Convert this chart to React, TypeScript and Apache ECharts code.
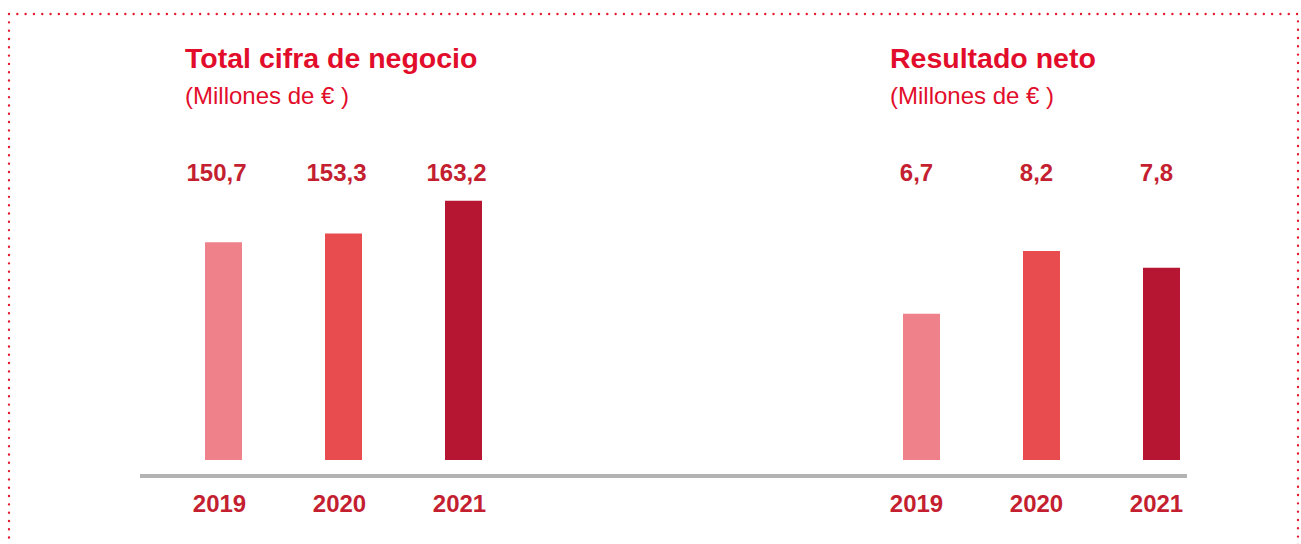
import React, { useEffect, useRef } from "react";
import * as echarts from "echarts";

const years = ["2019", "2020", "2021"];
const revenue = [150.7, 153.3, 163.2];
const netIncome = [6.7, 8.2, 7.8];
const barColors = ["#EF818B", "#E84C4E", "#B61631"];
const titles = ["Total cifra de negocio", "Resultado neto"];
const subtitle = "(Millones de € )";

const FONT = "'Liberation Sans', Arial, Helvetica, sans-serif";
const TITLE_RED = "#E20D2B";
const LABEL_RED = "#C41F30";

const fmt = (v: number) => v.toFixed(1).replace(".", ",");

export default function App() {
  const ref = useRef<HTMLDivElement>(null);
  useEffect(() => {
    if (!ref.current) return;
    const chart = echarts.init(ref.current, null, { renderer: "svg" });
    const labelStyle = {
      color: LABEL_RED,
      fontSize: 24,
      fontFamily: FONT,
      fontWeight: "bold" as const,
      verticalAlign: "middle" as const,
    };
    const catAxis = (
      grid: number,
      data: string[],
      position: string,
      margin: number,
      shiftLeft: number
    ) => ({
      gridIndex: grid,
      type: "category" as const,
      data,
      position,
      axisLine: { show: false },
      axisTick: { show: false },
      splitLine: { show: false },
      axisLabel: { ...labelStyle, margin, interval: 0, padding: [0, shiftLeft * 2, 0, 0] },
    });
    const barSeries = (idx: number, data: number[]) => ({
      type: "bar" as const,
      xAxisIndex: idx * 2,
      yAxisIndex: idx,
      data,
      barWidth: 37,
      itemStyle: { color: (p: any) => barColors[p.dataIndex] },
      label: { show: false },
    });
    chart.setOption({
      animation: false,
      backgroundColor: "#ffffff",
      grid: [
        { left: 163.5, top: 190, width: 360, height: 270 },
        { left: 861.5, top: 190, width: 360, height: 270 },
      ],
      xAxis: [
        catAxis(0, years, "bottom", 43, 4),
        catAxis(0, revenue.map(fmt), "top", 18, 7),
        catAxis(1, years, "bottom", 43, 5),
        catAxis(1, netIncome.map(fmt), "top", 18, 5),
      ],
      yAxis: [
        { gridIndex: 0, type: "value", min: 85.3, max: 166.4, show: false, splitLine: { show: false } },
        { gridIndex: 1, type: "value", min: 3.22, max: 9.65, show: false, splitLine: { show: false } },
      ],
      series: [barSeries(0, revenue), barSeries(1, netIncome)],
      graphic: [
        {
          type: "rect",
          shape: { x: 9, y: 14, width: 1289, height: 560 },
          style: {
            fill: "none",
            stroke: "#E31B30",
            lineWidth: 2.4,
            lineDash: [0.01, 8.3],
            lineCap: "round",
          },
          silent: true,
        },
        {
          type: "line",
          shape: { x1: 140, y1: 476, x2: 1187, y2: 476 },
          style: { stroke: "#B3B3B3", lineWidth: 4 },
          silent: true,
        },
        {
          type: "text",
          x: 185,
          y: 57.5,
          style: {
            text: titles[0],
            fill: TITLE_RED,
            font: `bold 28.5px ${FONT}`,
            verticalAlign: "middle",
          },
        },
        {
          type: "text",
          x: 185,
          y: 95,
          style: {
            text: subtitle,
            fill: TITLE_RED,
            font: `normal 24px ${FONT}`,
            verticalAlign: "middle",
          },
        },
        {
          type: "text",
          x: 890,
          y: 57.5,
          style: {
            text: titles[1],
            fill: TITLE_RED,
            font: `bold 28.5px ${FONT}`,
            verticalAlign: "middle",
          },
        },
        {
          type: "text",
          x: 890,
          y: 95,
          style: {
            text: subtitle,
            fill: TITLE_RED,
            font: `normal 24px ${FONT}`,
            verticalAlign: "middle",
          },
        },
      ],
    });
    return () => chart.dispose();
  }, []);
  return (
    <div
      ref={ref}
      style={{ position: "fixed", left: 0, top: 0, width: 1301, height: 544 }}
    />
  );
}
